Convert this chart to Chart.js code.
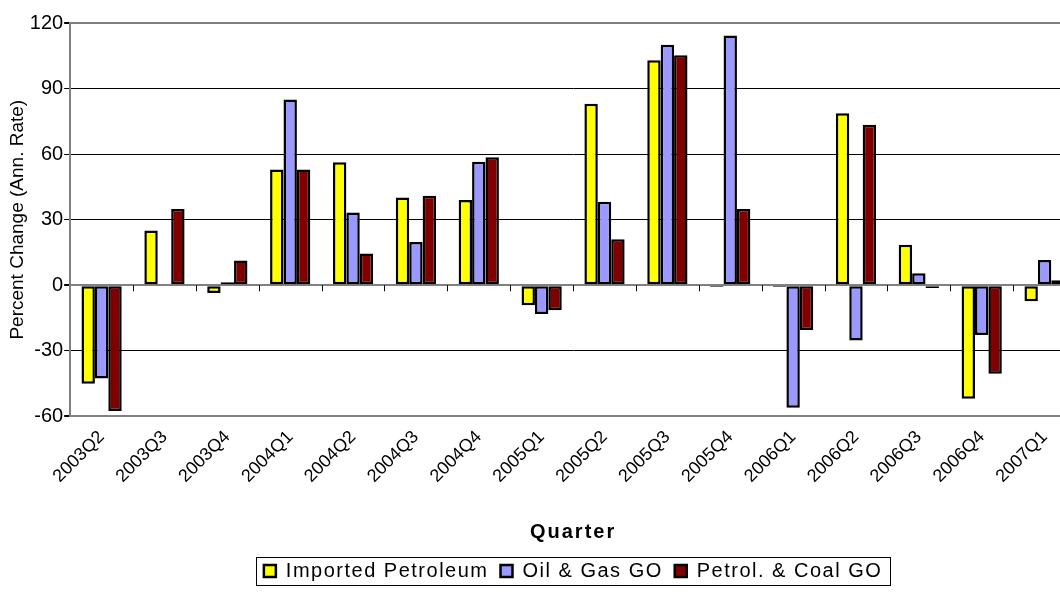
<!DOCTYPE html>
<html lang="en">
<head>
    <meta charset="UTF-8">
    <title>Petroleum Prices by Quarter</title>
    <script src="https://cdn.jsdelivr.net/npm/chart.js"></script>
    <style>
        html, body { margin: 0; padding: 0; background: #fff; }
        #wrap { width: 1060px; height: 606px; overflow: hidden; }
        #box { width: 1076px; height: 606px; }
    </style>
</head>
<body>
    <div id="wrap">
        <div id="box"><canvas id="priceChart"></canvas></div>
    </div>
    <script>
        const quarters = ['2003Q2', '2003Q3', '2003Q4', '2004Q1', '2004Q2', '2004Q3', '2004Q4', '2005Q1',
                          '2005Q2', '2005Q3', '2005Q4', '2006Q1', '2006Q2', '2006Q3', '2006Q4', '2007Q1'];
        const importedPetroleum = [-45, 25.1, -3.5, 53, 56.3, 40.2, 39, -9.1, 83, 103, -0.8, -0.8, 78.7, 18.6, -51.9, -7.3];
        const oilGasGO = [-42.6, 0.5, 1.4, 85, 33.3, 19.8, 56.5, -13.1, 38.2, 110, 114.3, -56, -25.3, 5.5, -22.8, 11.6];
        const petrolCoalGO = [-57.5, 34.9, 11.3, 53, 14.5, 41, 58.6, -11.4, 21.1, 105.2, 34.9, -20.5, 73.4, -1.2, -40.5, 2.3];
        const yTicks = [-60, -30, 0, 30, 60, 90, 120];

        const font = 'Liberation Sans, Arial, sans-serif';

        // short tick marks hanging under the zero line between categories
        const zeroTicks = {
            id: 'zeroTicks',
            beforeDatasetsDraw(chart) {
                const x = chart.scales.x, y = chart.scales.y;
                const y0 = y.getPixelForValue(0);
                const step = x.width / quarters.length;
                const c = chart.ctx;
                c.save();
                c.strokeStyle = '#000';
                c.lineWidth = 1;
                for (let i = 1; i <= quarters.length; i++) {
                    const px = Math.round(x.left + i * step) + 0.5;
                    c.beginPath();
                    c.moveTo(px, y0);
                    c.lineTo(px, y0 + 6);
                    c.stroke();
                }
                c.restore();
            }
        };

        // center the legend under the plot and put a frame round it
        const legendFrame = {
            id: 'legendFrame',
            afterLayout(chart) {
                const lg = chart.legend, area = chart.chartArea;
                const shift = (area.left + area.right) / 2 - (lg.left + lg.right) / 2;
                lg.left += shift;
                lg.right += shift;
            },
            afterDraw(chart) {
                const boxes = chart.legend.legendHitBoxes;
                if (!boxes || !boxes.length) return;
                const left = Math.min(...boxes.map(b => b.left)) - 8;
                const right = Math.max(...boxes.map(b => b.left + b.width)) + 8;
                const top = Math.min(...boxes.map(b => b.top)) - 4;
                const bottom = Math.max(...boxes.map(b => b.top + b.height)) + 4;
                const c = chart.ctx;
                c.save();
                c.strokeStyle = '#000';
                c.lineWidth = 1;
                c.strokeRect(Math.round(left) + 0.5, Math.round(top) + 0.5, Math.round(right - left), Math.round(bottom - top));
                c.restore();
            }
        };

        const barStyle = { borderColor: '#000', borderWidth: 2.5, borderSkipped: false, barPercentage: 1, categoryPercentage: 0.64 };

        const chart = new Chart(document.getElementById('priceChart'), {
            type: 'bar',
            data: {
                labels: quarters,
                datasets: [
                    Object.assign({ label: 'Imported Petroleum', data: importedPetroleum, backgroundColor: '#FFFF00' }, barStyle),
                    Object.assign({ label: 'Oil & Gas GO', data: oilGasGO, backgroundColor: '#9999FF' }, barStyle),
                    Object.assign({ label: 'Petrol. & Coal GO', data: petrolCoalGO, backgroundColor: '#800000' }, barStyle)
                ]
            },
            options: {
                responsive: true,
                maintainAspectRatio: false,
                animation: false,
                layout: { padding: { top: 23, left: 6, right: 0, bottom: 15 } },
                plugins: {
                    tooltip: { enabled: false },
                    legend: {
                        position: 'bottom',
                        labels: {
                            font: { family: font, size: 20 },
                            color: '#000',
                            boxWidth: 12,
                            boxHeight: 12,
                            padding: 12
                        }
                    }
                },
                scales: {
                    x: {
                        grid: { display: false },
                        border: { display: false },
                        ticks: {
                            font: { family: font, size: 18 },
                            color: '#000',
                            maxRotation: 45,
                            minRotation: 45,
                            padding: 2
                        },
                        title: {
                            display: true,
                            text: 'Quarter',
                            font: { family: font, size: 20, weight: 'bold' },
                            color: '#000',
                            padding: { top: 31, bottom: 5 }
                        }
                    },
                    y: {
                        min: -60,
                        max: 120,
                        afterBuildTicks(scale) {
                            scale.ticks = yTicks.map(v => ({ value: v }));
                        },
                        grid: {
                            color: ctx => (ctx.tick && [120, 0, -60].includes(ctx.tick.value)) ? '#808080' : '#000',
                            lineWidth: ctx => (ctx.tick && [120, 0, -60].includes(ctx.tick.value)) ? 2 : 1,
                            tickColor: '#000',
                            tickLength: 6
                        },
                        border: { display: true, color: '#808080', width: 2 },
                        ticks: {
                            font: { family: font, size: 20 },
                            color: '#000',
                            padding: 1
                        },
                        title: {
                            display: true,
                            text: 'Percent Change (Ann. Rate)',
                            font: { family: font, size: 19 },
                            color: '#000',
                            padding: { top: 0, bottom: 0 }
                        }
                    }
                }
            },
            plugins: [zeroTicks, legendFrame]
        });

        // legend and axis title are set a little wider than the default face
        function widen(obj, name, amount) {
            const orig = obj[name];
            obj[name] = function (...args) {
                const c = this.ctx;
                const prev = c.letterSpacing;
                c.letterSpacing = amount;
                const out = orig.apply(this, args);
                c.letterSpacing = prev;
                return out;
            };
        }
        widen(chart.legend, 'fit', '1.5px');
        widen(chart.legend, 'draw', '1.5px');
        widen(chart.scales.x, 'drawTitle', '2px');
        chart.update();
    </script>
</body>
</html>
